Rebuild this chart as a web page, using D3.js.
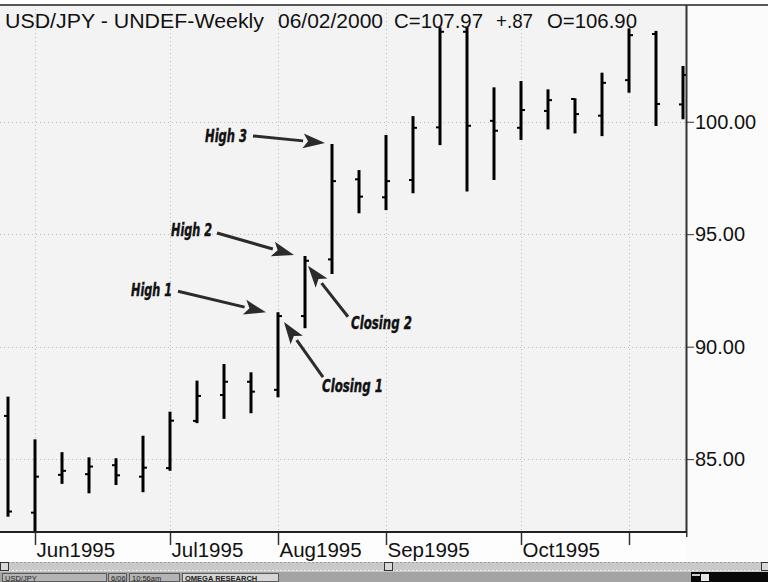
<!DOCTYPE html>
<html>
<head>
<meta charset="utf-8">
<script src="https://cdn.jsdelivr.net/npm/d3@7"></script>
<style>
  html, body { margin: 0; padding: 0; background: #ffffff; }
  svg { display: block; font-family: Arial, "Liberation Sans", sans-serif; }
</style>
</head>
<body>
<svg id="chart" width="768" height="582"></svg>
<script>
// Weekly bars (Friday dates)
const weeks = ["1995-05-26", "1995-06-02", "1995-06-09", "1995-06-16", "1995-06-23", "1995-06-30",
  "1995-07-07", "1995-07-14", "1995-07-21", "1995-07-28", "1995-08-04", "1995-08-11", "1995-08-18",
  "1995-08-25", "1995-09-01", "1995-09-08", "1995-09-15", "1995-09-22", "1995-09-29", "1995-10-06",
  "1995-10-13", "1995-10-20", "1995-10-27", "1995-11-03", "1995-11-10", "1995-11-17"];
const opens  = [86.92, 82.62, 84.30, 84.33, 84.73, 84.22, 84.60, 86.70, 87.85, 88.44, 88.08, 91.36, 93.88,
  97.44, 96.64, 97.41, 99.75, 104.00, 100.04, 99.73, 100.48, 101.01, 100.27, 101.85, 103.90, 100.77];
const highs  = [87.78, 85.88, 85.31, 85.08, 85.04, 86.04, 87.11, 88.49, 89.23, 88.86, 91.53, 94.03, 99.01,
  97.85, 99.41, 100.25, 104.20, 104.20, 101.53, 101.81, 101.44, 101.04, 102.18, 104.15, 104.04, 102.48];
const lows   = [82.44, 81.50, 83.90, 83.48, 83.85, 83.53, 84.48, 86.60, 86.79, 87.04, 87.75, 90.82, 93.23,
  95.93, 96.07, 96.82, 98.96, 96.90, 97.41, 99.19, 99.66, 99.48, 99.36, 101.29, 99.81, 100.11];
const closes = [82.67, 84.22, 84.48, 84.67, 84.28, 84.62, 86.71, 87.81, 88.44, 88.00, 91.36, 93.82, 97.36,
  96.67, 97.36, 99.73, 104.00, 99.82, 99.60, 100.52, 100.96, 100.34, 101.73, 103.85, 100.79, 102.08];

// axis ticks
const monthTicks = ["1995-06-02", "1995-07-07", "1995-08-04", "1995-09-01", "1995-10-06", "1995-11-03"];
const monthLabels = ["Jun1995", "Jul1995", "Aug1995", "Sep1995", "Oct1995", ""];
const priceTicks = [85, 90, 95, 100];

// header line pieces
const headerTexts = ["USD/JPY - UNDEF-Weekly", "06/02/2000", "C=107.97", "+.87", "O=106.90"];

// annotations: which bar and which value the arrow points at
const notes = [
  { label: "High 3", bar: 12, field: "high" },
  { label: "High 2", bar: 11, field: "high" },
  { label: "High 1", bar: 10, field: "high" },
  { label: "Closing 2", bar: 11, field: "close" },
  { label: "Closing 1", bar: 10, field: "close" }
];

const svg = d3.select("#chart");
const parse = d3.utcParse("%Y-%m-%d");

const data = weeks.map((w, i) => ({
  date: parse(w), open: opens[i], high: highs[i], low: lows[i], close: closes[i]
}));

const plotLeft = 0, plotRight = 686, plotTop = 5, plotBottom = 532;

const x = d3.scaleUtc()
  .domain([data[0].date, data[data.length - 1].date])
  .range([8, 683]);
const y = d3.scaleLinear()
  .domain([81.76, 105.19])
  .range([plotBottom, plotTop]);

// backgrounds
svg.append("rect").attr("x", 0).attr("y", 0).attr("width", 768).attr("height", 582).attr("fill", "#ffffff");
svg.append("rect").attr("x", plotLeft).attr("y", plotTop).attr("width", plotRight - plotLeft)
  .attr("height", plotBottom - plotTop).attr("fill", "#f3f3f3");
svg.append("rect").attr("x", plotRight).attr("y", plotTop).attr("width", 768 - plotRight)
  .attr("height", 562 - plotTop).attr("fill", "#fbfbfb");

svg.append("defs").append("clipPath").attr("id", "plotclip")
  .append("rect").attr("x", plotLeft).attr("y", plotTop)
  .attr("width", plotRight - plotLeft).attr("height", plotBottom - plotTop);

// grid
const grid = svg.append("g").attr("stroke", "#bdbdbd").attr("stroke-width", 1).attr("stroke-dasharray", "1,3");
grid.selectAll("line.h").data(priceTicks).enter().append("line")
  .attr("x1", plotLeft).attr("x2", plotRight)
  .attr("y1", d => Math.round(y(d)) + 0.5).attr("y2", d => Math.round(y(d)) + 0.5);
grid.selectAll("line.v").data(monthTicks).enter().append("line")
  .attr("y1", plotTop).attr("y2", plotBottom)
  .attr("x1", d => Math.round(x(parse(d))) + 0.5).attr("x2", d => Math.round(x(parse(d))) + 0.5);

// OHLC bars
const bars = svg.append("g").attr("clip-path", "url(#plotclip)").attr("stroke", "#000");
const g = bars.selectAll("g").data(data).enter().append("g");
g.append("line")
  .attr("x1", d => x(d.date)).attr("x2", d => x(d.date))
  .attr("y1", d => y(d.high)).attr("y2", d => y(d.low))
  .attr("stroke-width", 3);
g.append("line")
  .attr("x1", d => x(d.date) - 4).attr("x2", d => x(d.date))
  .attr("y1", d => y(d.open)).attr("y2", d => y(d.open))
  .attr("stroke-width", 2);
g.append("line")
  .attr("x1", d => x(d.date)).attr("x2", d => x(d.date) + 4)
  .attr("y1", d => y(d.close)).attr("y2", d => y(d.close))
  .attr("stroke-width", 2);

// top frame line
svg.append("line").attr("x1", 0).attr("x2", 768).attr("y1", 5).attr("y2", 5)
  .attr("stroke", "#222").attr("stroke-width", 1.5);

// header
const headerX = [5, 278, 394, 496, 547];
const headerW = [259, 105, 89, 37, 90];
svg.append("g").selectAll("text").data(headerTexts).enter().append("text")
  .attr("x", (d, i) => headerX[i]).attr("y", 28)
  .attr("font-size", 21).attr("fill", "#111")
  .attr("textLength", (d, i) => headerW[i]).attr("lengthAdjust", "spacingAndGlyphs")
  .text(d => d);

// y axis on the right
const yAxis = svg.append("g")
  .attr("transform", `translate(${plotRight},0)`)
  .call(d3.axisRight(y).tickValues(priceTicks).tickFormat(d3.format(".2f")).tickSize(8).tickSizeOuter(0).tickPadding(1));
yAxis.select(".domain").attr("stroke", "#333").attr("stroke-width", 2);
yAxis.selectAll(".tick line").attr("stroke", "#333");
yAxis.selectAll("text").attr("font-size", 20).attr("fill", "#111").attr("font-family", "Arial, 'Liberation Sans', sans-serif");
yAxis.select(".domain").attr("d", `M0.5,${plotTop}V537`);

// label band + x axis
svg.append("rect").attr("x", 0).attr("y", plotBottom).attr("width", plotRight).attr("height", 30).attr("fill", "#fdfdfd");
const xAxis = svg.append("g")
  .attr("transform", `translate(0,${plotBottom})`)
  .call(d3.axisBottom(x).tickValues(monthTicks.map(parse)).tickSize(13)
    .tickFormat((d, i) => monthLabels[i]));
xAxis.select(".domain").remove();
xAxis.selectAll(".tick line").attr("stroke", "#333").attr("stroke-width", 1.5);
xAxis.selectAll("text")
  .attr("text-anchor", "start").attr("x", 1).attr("y", 25).attr("dy", null)
  .attr("font-size", 20.5).attr("fill", "#111").attr("font-family", "Arial, 'Liberation Sans', sans-serif");
svg.append("line").attr("x1", 0).attr("x2", plotRight + 1).attr("y1", plotBottom).attr("y2", plotBottom)
  .attr("stroke", "#222").attr("stroke-width", 2);

// annotations with arrows
const layout = {
  "High 3":    { tip: [-7, -1], tail: [-72, -7], text: [-6, 6], anchor: "end", w: 42 },
  "High 2":    { tip: [-11, -1], tail: [-77, -22], text: [-5, 3], anchor: "end", w: 41 },
  "High 1":    { tip: [-12, 0], tail: [-88, -21], text: [-6, 5], anchor: "end", w: 41 },
  "Closing 2": { tip: [3, 5], tail: [40, 51], text: [3, 12], anchor: "start", w: 61 },
  "Closing 1": { tip: [6, 6], tail: [39, 55], text: [-1, 15], anchor: "start", w: 61 }
};
const ann = svg.append("g");
notes.forEach(n => {
  const d = data[n.bar];
  const L = layout[n.label];
  const tx = x(d.date) + L.tip[0], ty = y(d[n.field]) + L.tip[1];
  const sx = tx + L.tail[0], sy = ty + L.tail[1];
  const ang = Math.atan2(ty - sy, tx - sx);
  const len = 22, half = 7.5;
  const bx = tx - len * Math.cos(ang), by = ty - len * Math.sin(ang);
  ann.append("line").attr("x1", sx).attr("y1", sy).attr("x2", bx).attr("y2", by)
    .attr("stroke", "#2b2b2b").attr("stroke-width", 3);
  ann.append("path")
    .attr("d", `M${tx},${ty}L${bx + half * Math.sin(ang)},${by - half * Math.cos(ang)}` +
      `L${bx + 5 * Math.cos(ang)},${by + 5 * Math.sin(ang)}` +
      `L${bx - half * Math.sin(ang)},${by + half * Math.cos(ang)}Z`)
    .attr("fill", "#2b2b2b");
  ann.append("text")
    .attr("x", sx + L.text[0]).attr("y", sy + L.text[1])
    .attr("text-anchor", L.anchor)
    .attr("font-family", "'Liberation Sans Narrow', 'DejaVu Sans Condensed', 'Liberation Sans', sans-serif")
    .attr("font-weight", "bold").attr("font-style", "italic").attr("font-size", 17)
    .attr("textLength", L.w).attr("lengthAdjust", "spacingAndGlyphs")
    .attr("fill", "#111").attr("stroke", "#111").attr("stroke-width", 0.4)
    .text(n.label);
});

// scrollbar
const sb = svg.append("g");
sb.append("rect").attr("x", 0).attr("y", 562).attr("width", 768).attr("height", 10).attr("fill", "#c9c9c9");
sb.append("line").attr("x1", 0).attr("x2", 768).attr("y1", 562.5).attr("y2", 562.5).attr("stroke", "#999").attr("stroke-dasharray", "2,2");
sb.append("line").attr("x1", 0).attr("x2", 768).attr("y1", 570.5).attr("y2", 570.5).attr("stroke", "#eee").attr("stroke-dasharray", "2,2");
[[0, 8], [384, 8], [761, 7]].forEach(b => {
  sb.append("rect").attr("x", b[0] + 0.5).attr("y", 562.5).attr("width", b[1]).attr("height", 8)
    .attr("fill", "#d8d8d8").attr("stroke", "#333");
});

// status bar
const st = svg.append("g");
st.append("rect").attr("x", 0).attr("y", 572).attr("width", 768).attr("height", 10).attr("fill", "#a4a4a4");
const panels = [[2, 104, "USD/JPY"], [108, 18, "6/06"], [129, 50, "10:56am"], [182, 96, "OMEGA RESEARCH"]];
panels.forEach((p, i) => {
  st.append("rect").attr("x", p[0] + 0.5).attr("y", 573.5).attr("width", p[1]).attr("height", 8)
    .attr("fill", i === 3 ? "#d6d6d6" : "#b4b4b4").attr("stroke", "#5a5a5a");
  st.append("text").attr("x", p[0] + 3).attr("y", 580.5).attr("font-size", 7.5)
    .attr("font-weight", i === 3 ? "bold" : "normal").attr("fill", "#222").text(p[2]);
});
st.append("rect").attr("x", 691).attr("y", 572).attr("width", 77).attr("height", 10).attr("fill", "#080808");
st.append("rect").attr("x", 701).attr("y", 574).attr("width", 8).attr("height", 7).attr("fill", "#e8e8e8");
st.append("rect").attr("x", 692).attr("y", 574).attr("width", 8).attr("height", 2).attr("fill", "#cccccc");
</script>
</body>
</html>
